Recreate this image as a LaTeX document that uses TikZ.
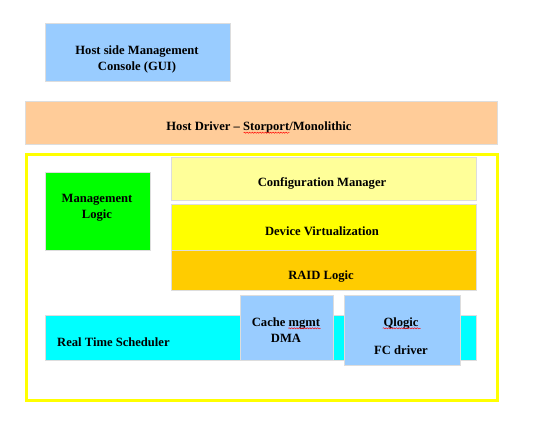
\documentclass[tikz,border=0pt]{standalone}
\usepackage{fontspec}
\setmainfont{Liberation Serif}
\usepackage{tikz}
\usetikzlibrary{decorations.pathmorphing}

\definecolor{edgegray}{HTML}{DDDDDD}
\definecolor{skyblue}{HTML}{99CCFF}
\definecolor{peach}{HTML}{FFCC99}
\definecolor{paleyellow}{HTML}{FFFF99}
\definecolor{brightyellow}{HTML}{FFFF00}
\definecolor{gold}{HTML}{FFCC00}
\definecolor{lime}{HTML}{00FF00}
\definecolor{aqua}{HTML}{00FFFF}

\tikzset{
  blk/.style={draw=edgegray, line width=0.8pt, inner sep=0pt, anchor=north west},
  lbl/.style={font=\fontsize{12.6}{15.7}\selectfont\bfseries, align=center, inner sep=0pt},
  squig/.style={red, line width=0.45pt, decorate,
    decoration={snake, amplitude=0.6pt, segment length=2.6pt}}
}

\begin{document}
\begin{tikzpicture}[x=1pt, y=-1pt]
\useasboundingbox (0,0) rectangle (548,426);
% top layers
\node[blk, fill=skyblue, minimum width=185pt, minimum height=58pt] (hsm) at (45,23) {};
\node[blk, fill=peach, minimum width=472pt, minimum height=43pt] (drv) at (25,101) {};
% firmware frame
\node[blk, draw=brightyellow, line width=3.5pt, minimum width=471pt, minimum height=246pt] (core) at (24.7,152.7) {};
\node[blk, fill=paleyellow, minimum width=305pt, minimum height=43pt] (cfg) at (170.7,156.7) {};
\node[blk, fill=brightyellow, minimum width=305pt, minimum height=46pt] (dev) at (170.7,204) {};
\node[blk, fill=gold, minimum width=305pt, minimum height=40.3pt] (raid) at (170.7,250) {};
\node[blk, fill=lime, minimum width=105.3pt, minimum height=78pt] (mgl) at (45,172.3) {};
\node[blk, fill=aqua, minimum width=430.7pt, minimum height=45.3pt] (rts) at (45,315) {};
\node[blk, fill=skyblue, minimum width=93.6pt, minimum height=65.3pt] (cache) at (239.7,295) {};
\node[blk, fill=skyblue, minimum width=116.6pt, minimum height=70.3pt] (qlg) at (343.7,295) {};
% labels
\node[lbl] (hsmtxt) at (137,59.5) {Host side Management\\Console (GUI)};
\node[lbl] (drvtxt) at (259,127.7) {Host Driver -- Storport/Monolithic};
\node[lbl] (cfgtxt) at (322,183.3) {Configuration Manager};
\node[lbl] (devtxt) at (322,231.7) {Device Virtualization};
\node[lbl] (raidtxt) at (321,276.7) {RAID Logic};
\node[lbl] (mgltxt) at (97,208) {Management\\Logic};
\node[lbl, anchor=west] (rtstxt) at (57,341.7) {Real Time Scheduler};
\node[lbl] (cachetxt) at (286,330) {Cache mgmt\\DMA};
\node[lbl] (qlgtxt) at (401,336) {Qlogic\\[12pt]FC driver};
% spell marks
\draw[squig] (243.7,132.7) -- (289.3,132.7);
\draw[squig] (288.3,328.3) -- (320.7,328.3);
\draw[squig] (382.7,328.3) -- (420.7,328.3);
\end{tikzpicture}
\end{document}
